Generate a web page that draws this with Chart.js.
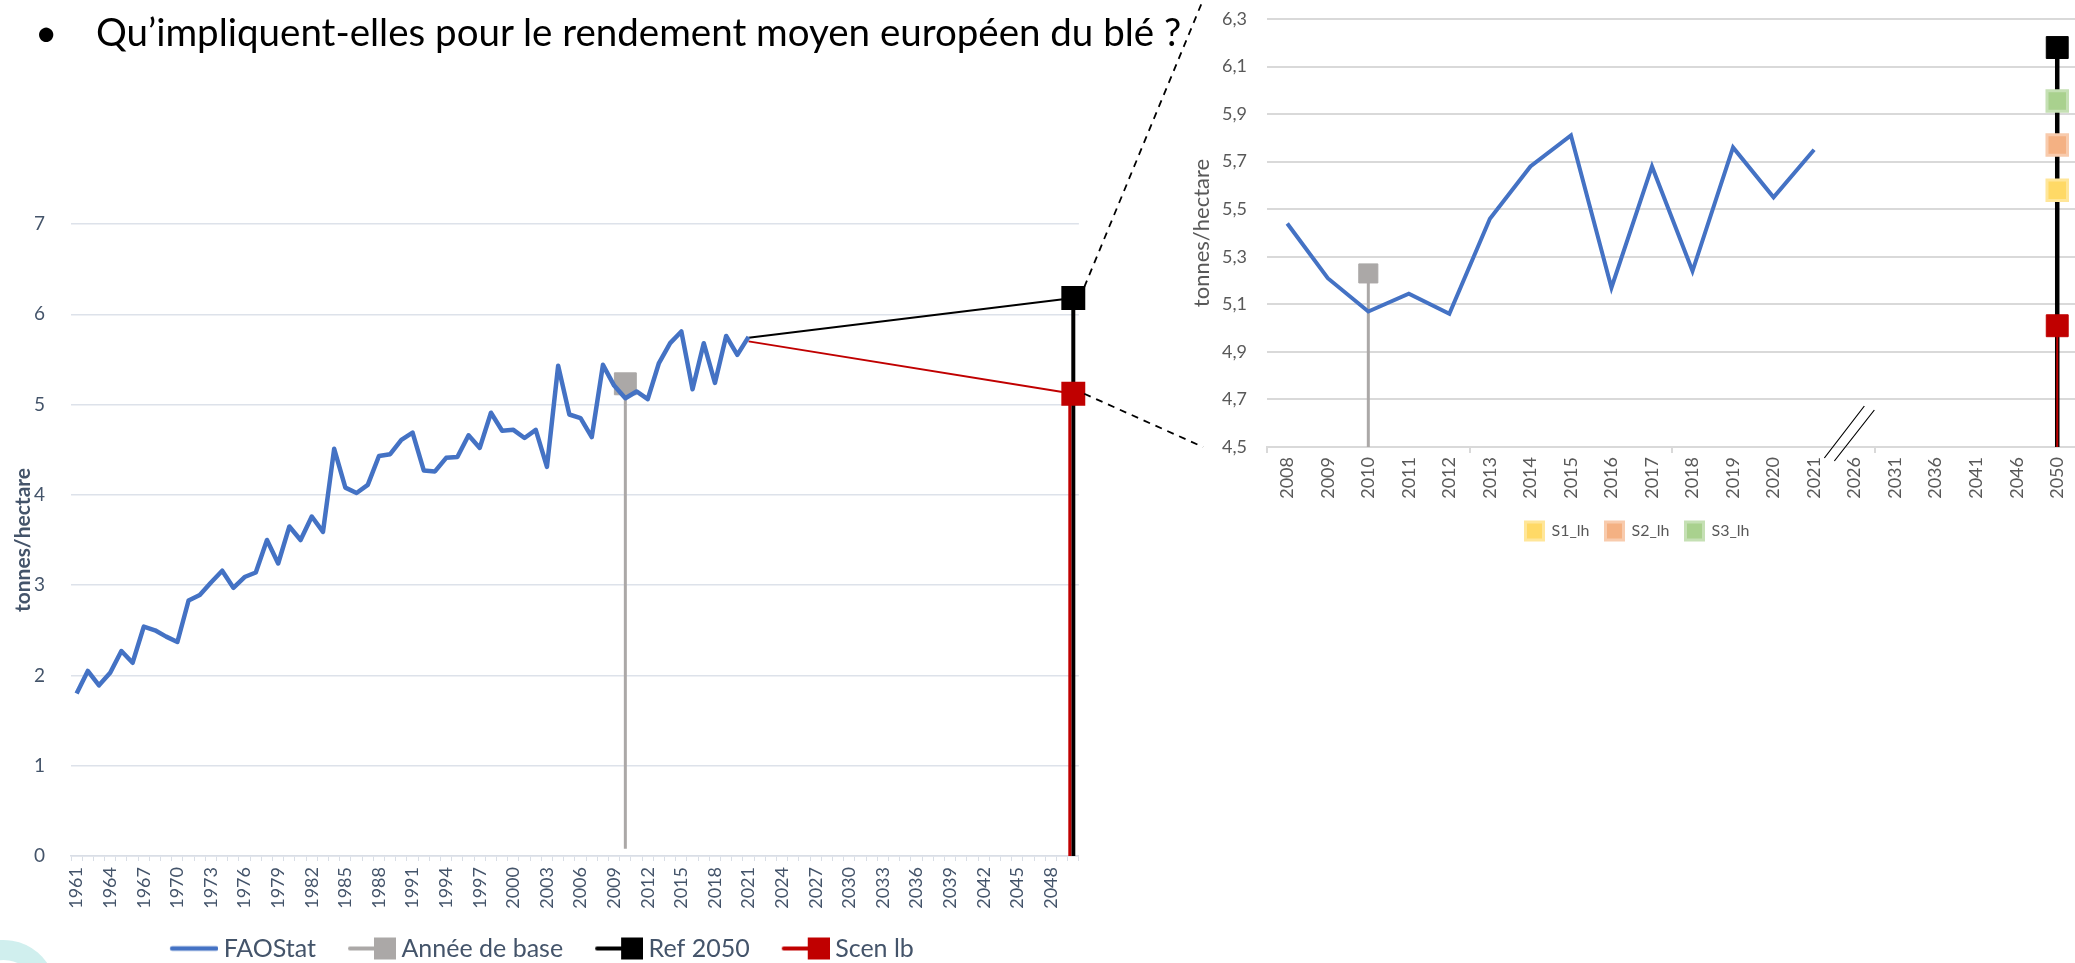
<!DOCTYPE html>
<html lang="fr">
<head>
<meta charset="utf-8">
<title>Rendement moyen européen du blé</title>
<script src="https://cdn.jsdelivr.net/npm/chart.js@4.4.1/dist/chart.umd.min.js"></script>
<style>
  html, body { margin: 0; padding: 0; background: #fff; }
  body { width: 2075px; height: 963px; position: relative; overflow: hidden; font-family: Lato, "Open Sans", sans-serif; }
  #leftWrap { position: absolute; left: 0; top: 0; }
  #rightWrap { position: absolute; left: 1180px; top: 0; }
  #title { position: absolute; left: 35px; top: 8px; font-size: 38.5px; color: #000; white-space: nowrap; }
  #title .bullet { display: inline-block; width: 61px; }
  #overlay { position: absolute; left: 0; top: 0; pointer-events: none; }
</style>
</head>
<body>
<div id="leftWrap"><canvas id="leftChart" width="1101" height="971"></canvas></div>
<div id="rightWrap"><canvas id="rightChart" width="915" height="550"></canvas></div>
<div id="title"><span class="bullet">•</span>Qu’impliquent-elles pour le rendement moyen européen du blé ?</div>
<canvas id="overlay" width="2075" height="963"></canvas>
<script>
Chart.defaults.font.family = 'Lato, "Open Sans", sans-serif'
Chart.defaults.animation = false

// --- data -------------------------------------------------------------
// years on the long chart, 1961 .. 2050
const years = Array.from({length: 90}, (_, i) => String(1961 + i))

// FAOStat wheat yield, t/ha, 1961 .. 2021
const faoStat = [
    1.80, 2.05, 1.89, 2.03, 2.27, 2.14, 2.54, 2.50, 2.43, 2.37,
    2.83, 2.89, 3.03, 3.16, 2.97, 3.09, 3.14, 3.50, 3.24, 3.65,
    3.50, 3.76, 3.59, 4.51, 4.08, 4.02, 4.11, 4.43, 4.45, 4.61,
    4.69, 4.27, 4.26, 4.41, 4.42, 4.66, 4.52, 4.91, 4.71, 4.72,
    4.63, 4.72, 4.31, 5.43, 4.89, 4.85, 4.64, 5.44, 5.21, 5.07,
    5.145, 5.06, 5.46, 5.68, 5.81, 5.17, 5.68, 5.24, 5.76, 5.55,
    5.75,
]

const baseYear = '2010'
const baseValue = 5.23

const refPoints = [{x: '2021', y: 5.74}, {x: '2050', y: 6.18}]
const scenPoints = [{x: '2021', y: 5.70}, {x: '2050', y: 5.12}]

// zoomed chart
const zoomYears = ['2008', '2009', '2010', '2011', '2012', '2013', '2014', '2015', '2016', '2017',
    '2018', '2019', '2020', '2021', '2026', '2031', '2036', '2041', '2046', '2050']
const zoomFao = faoStat.slice(years.indexOf('2008'))
const zoomRef = 6.18
const zoomScenLb = 5.01
const s1Value = 5.58
const s2Value = 5.77
const s3Value = 5.955

const leftYTicks = [0, 1, 2, 3, 4, 5, 6, 7]
const rightYTicks = [4.5, 4.7, 4.9, 5.1, 5.3, 5.5, 5.7, 5.9, 6.1, 6.3]

// --- colours ------------------------------------------------------------
const BLUE = '#4472C4'
const GREY = '#ABA8A7'
const BLACK = '#000000'
const RED = '#C00000'
const SQUARE_R = 15.5

// vertical line from a marker down to the bottom of the value axis
const dropLines = {
    id: 'dropLines',
    beforeDatasetsDraw(chart) {
        const {ctx, scales: {y}} = chart
        chart.data.datasets.forEach((ds, i) => {
            if (!ds.drop) return
            const meta = chart.getDatasetMeta(i)
            ds.data.forEach((d, j) => {
                if (d.x !== ds.drop.at) return
                const pt = meta.data[j]
                const x = pt.x + (ds.drop.offset || 0)
                const yEnd = ds.drop.to != null ? y.getPixelForValue(ds.drop.to) : y.bottom
                ctx.save()
                ctx.strokeStyle = ds.drop.color
                ctx.lineWidth = ds.drop.width
                ctx.beginPath()
                ctx.moveTo(x, pt.y)
                ctx.lineTo(x, yEnd)
                ctx.stroke()
                ctx.restore()
            })
        })
    }
}

// the "//" break on the zoomed x axis
const axisBreak = {
    id: 'axisBreak',
    afterDraw(chart) {
        const {ctx, scales: {x}} = chart
        const i = zoomYears.indexOf('2021')
        const xb = (x.getPixelForValue(i) + x.getPixelForValue(i + 1)) / 2
        const yb = x.top
        ctx.save()
        ctx.strokeStyle = BLACK
        ctx.lineWidth = 1.2
        ctx.beginPath()
        ctx.moveTo(xb - 10, yb + 11)
        ctx.lineTo(xb + 30, yb - 41)
        ctx.moveTo(xb, yb + 14)
        ctx.lineTo(xb + 40, yb - 37)
        ctx.stroke()
        ctx.restore()
    }
}

// the legend icons carry a blank margin on their left, so the row is
// pulled back by half of it to stay centred
const legendShift = {
    id: 'legendShift',
    afterLayout(chart) {
        const dx = chart.options.plugins.legend.shift || 0
        chart.legend.left += dx
        chart.legend.right += dx
    }
}

// legend icons: line with an optional square at its end
function legendIcon(color, width, square) {
    const c = document.createElement('canvas')
    c.width = 85
    c.height = 24
    const g = c.getContext('2d')
    g.strokeStyle = color
    g.lineWidth = width
    g.lineCap = 'round'
    g.beginPath()
    g.moveTo(39, 12)
    g.lineTo(square ? 72 : 83, 12)
    g.stroke()
    if (square) {
        g.fillStyle = color
        g.fillRect(63, 1, 22, 22)
    }
    return c
}

const leftIcons = [
    legendIcon(BLUE, 4.5, false),
    legendIcon(GREY, 4, true),
    legendIcon(BLACK, 4, true),
    legendIcon(RED, 4, true),
]

const leftChart = new Chart(document.getElementById('leftChart'), {
    type: 'line',
    data: {
        labels: years,
        datasets: [
            {
                label: 'FAOStat',
                data: faoStat,
                borderColor: BLUE,
                backgroundColor: BLUE,
                borderWidth: 4.5,
                pointRadius: 0,
                borderJoinStyle: 'round',
            },
            {
                label: 'Année de base',
                data: [{x: baseYear, y: baseValue}],
                borderColor: GREY,
                backgroundColor: GREY,
                pointStyle: 'rect',
                pointRadius: SQUARE_R,
                showLine: false,
                drop: {at: baseYear, to: 0.08, width: 3, color: GREY},
            },
            {
                label: 'Ref 2050',
                data: refPoints,
                borderColor: BLACK,
                backgroundColor: BLACK,
                borderWidth: 2,
                pointStyle: 'rect',
                pointRadius: [0, SQUARE_R],
                clip: false,
                drop: {at: '2050', width: 4, color: BLACK},
            },
            {
                label: 'Scen lb',
                data: scenPoints,
                borderColor: RED,
                backgroundColor: RED,
                borderWidth: 2,
                pointStyle: 'rect',
                pointRadius: [0, SQUARE_R],
                clip: false,
                drop: {at: '2050', width: 3, color: RED, offset: -3.5},
            },
        ]
    },
    options: {
        responsive: false,
        layout: {padding: {top: 224, left: 8, right: 9, bottom: 0}},
        plugins: {
            legend: {
                position: 'bottom',
                shift: -23,
                labels: {
                    color: '#44546A',
                    font: {size: 25},
                    padding: 2,
                    usePointStyle: true,
                    pointStyleWidth: 71,
                    boxHeight: 24,
                    generateLabels: (chart) => {
                        const original = Chart.defaults.plugins.legend.labels.generateLabels(chart)
                        return original.map((item, i) => ({...item, pointStyle: leftIcons[i], lineWidth: 0}))
                    }
                }
            },
            tooltip: {enabled: false},
        },
        scales: {
            x: {
                offset: true,
                grid: {
                    offset: true,
                    drawOnChartArea: false,
                    tickLength: 5,
                    color: '#D9DEE6',
                },
                border: {color: '#D9DEE6', width: 1.5},
                ticks: {
                    autoSkip: false,
                    minRotation: 90,
                    maxRotation: 90,
                    padding: 6,
                    color: '#44546A',
                    font: {size: 18},
                    callback: (value, index) => index % 3 === 0 ? years[index] : '',
                },
                afterFit: (scale) => { scale.height = 78 },
            },
            y: {
                min: 0,
                max: 7,
                afterBuildTicks: (scale) => { scale.ticks = leftYTicks.map(v => ({value: v})) },
                grid: {color: '#DDE2EA', lineWidth: 1.5, drawTicks: false},
                border: {display: false},
                ticks: {color: '#44546A', font: {size: 19}, padding: 26},
                title: {
                    display: true,
                    text: 'tonnes/hectare',
                    color: '#44546A',
                    font: {size: 21, weight: 'bold'},
                    padding: {top: 3, bottom: 4},
                },
                afterFit: (scale) => { scale.width = 63 },
            }
        }
    },
    plugins: [dropLines, legendShift],
})

const squareAt2050 = (label, value, fill, border) => ({
    label: label,
    data: [{x: '2050', y: value}],
    backgroundColor: fill,
    borderColor: border,
    borderWidth: 3,
    pointStyle: 'rect',
    pointRadius: 14.5,
    pointBorderWidth: 3,
    showLine: false,
    clip: false,
})

const rightChart = new Chart(document.getElementById('rightChart'), {
    type: 'line',
    data: {
        labels: zoomYears,
        datasets: [
            {
                label: 'FAOStat',
                data: zoomFao,
                borderColor: BLUE,
                borderWidth: 4,
                pointRadius: 0,
            },
            {
                label: 'Année de base',
                data: [{x: baseYear, y: baseValue}],
                borderColor: GREY,
                backgroundColor: GREY,
                pointStyle: 'rect',
                pointRadius: 13.5,
                showLine: false,
                drop: {at: baseYear, width: 3, color: GREY},
            },
            {
                label: 'Ref 2050',
                data: [{x: '2050', y: zoomRef}],
                borderColor: BLACK,
                backgroundColor: BLACK,
                pointStyle: 'rect',
                pointRadius: SQUARE_R,
                showLine: false,
                clip: false,
                drop: {at: '2050', width: 4.5, color: BLACK},
            },
            squareAt2050('S1_lh', s1Value, '#FFD966', '#FFE699'),
            squareAt2050('S2_lh', s2Value, '#F4B183', '#F8CBAD'),
            squareAt2050('S3_lh', s3Value, '#A9D18E', '#C5E0B4'),
            {
                label: 'Scen lb',
                data: [{x: '2050', y: zoomScenLb}],
                borderColor: RED,
                backgroundColor: RED,
                pointStyle: 'rect',
                pointRadius: SQUARE_R,
                showLine: false,
                clip: false,
                drop: {at: '2050', width: 2, color: RED},
            },
        ]
    },
    options: {
        responsive: false,
        layout: {padding: {top: 19, left: 0, right: 0, bottom: 0}},
        plugins: {
            legend: {
                position: 'bottom',
                labels: {
                    color: '#595959',
                    font: {size: 16},
                    boxWidth: 18,
                    boxHeight: 18,
                    padding: 16,
                    filter: (item) => /^S\d_lh$/.test(item.text),
                }
            },
            tooltip: {enabled: false},
        },
        scales: {
            x: {
                offset: true,
                grid: {
                    offset: true,
                    drawOnChartArea: false,
                    tickLength: 6,
                    lineWidth: 2,
                    color: (ctx) => ctx.index % 5 === 0 ? '#D9D9D9' : 'rgba(0,0,0,0)',
                },
                border: {color: '#D9D9D9', width: 2},
                ticks: {
                    autoSkip: false,
                    minRotation: 90,
                    maxRotation: 90,
                    padding: 4,
                    color: '#595959',
                    font: {size: 18},
                },
                afterFit: (scale) => { scale.height = 59 },
            },
            y: {
                min: 4.5,
                max: 6.3,
                afterBuildTicks: (scale) => { scale.ticks = rightYTicks.map(v => ({value: v})) },
                grid: {color: '#D9D9D9', lineWidth: 2, drawTicks: false},
                border: {display: false},
                ticks: {
                    color: '#595959',
                    font: {size: 18},
                    padding: 20,
                    callback: (v) => v.toFixed(1).replace('.', ','),
                },
                title: {
                    display: true,
                    text: 'tonnes/hectare',
                    color: '#595959',
                    font: {size: 22},
                    padding: {top: 9, bottom: 4},
                },
                afterFit: (scale) => {
                    scale.width = 87
                    scale.paddingTop = 10
                },
            }
        }
    },
    plugins: [dropLines, axisBreak],
})

// --- zoom connectors and the corner decoration ---------------------------
const ov = document.getElementById('overlay').getContext('2d')
const rightLeft = document.getElementById('rightWrap').offsetLeft
const lx = leftChart.scales.x.getPixelForValue(years.indexOf('2050'))
const half = SQUARE_R * Math.SQRT1_2
const yRef = leftChart.scales.y.getPixelForValue(refPoints[1].y)
const yScen = leftChart.scales.y.getPixelForValue(scenPoints[1].y)
const endX = rightLeft + rightChart.chartArea.left - 64
const endBottom = rightChart.scales.y.bottom

ov.strokeStyle = BLACK
ov.lineWidth = 1.8
ov.setLineDash([7, 6])
ov.beginPath()
ov.moveTo(lx + half, yRef - half)
ov.lineTo(endX, 0)
ov.moveTo(lx + half, yScen)
ov.lineTo(endX, endBottom)
ov.stroke()

ov.setLineDash([])
ov.strokeStyle = 'rgba(150, 220, 218, 0.45)'
ov.lineWidth = 20
ov.beginPath()
ov.arc(4, 992, 42, -Math.PI * 0.95, -Math.PI * 0.1)
ov.stroke()
</script>
</body>
</html>
